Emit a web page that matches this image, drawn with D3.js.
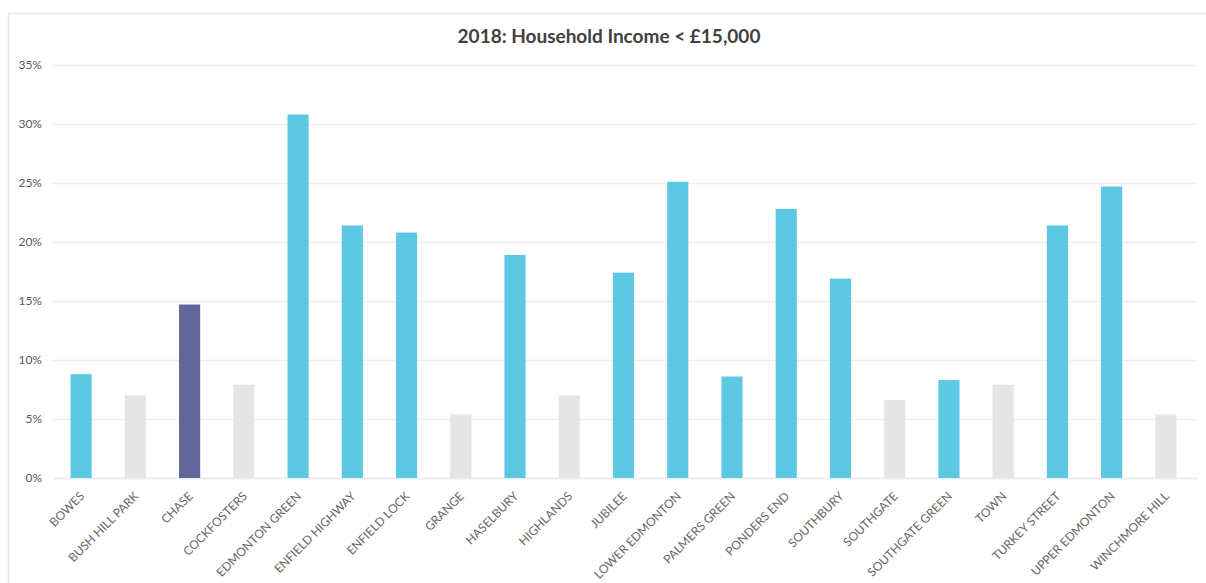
<!DOCTYPE html>
<html>
<head>
<meta charset="utf-8">
<script src="https://cdn.jsdelivr.net/npm/d3@7"></script>
<style>
  body { margin: 0; background: #fff; }
  text { font-family: Lato, "Open Sans", sans-serif; }
</style>
</head>
<body>
<svg id="chart" width="1206" height="583"></svg>
<script>
// ward names, share of households under £15k (%), and bar group
var wards = ['BOWES', 'BUSH HILL PARK', 'CHASE', 'COCKFOSTERS', 'EDMONTON GREEN',
   'ENFIELD HIGHWAY', 'ENFIELD LOCK', 'GRANGE', 'HASELBURY', 'HIGHLANDS', 'JUBILEE',
   'LOWER EDMONTON', 'PALMERS GREEN', 'PONDERS END', 'SOUTHBURY', 'SOUTHGATE',
   'SOUTHGATE GREEN', 'TOWN', 'TURKEY STREET', 'UPPER EDMONTON', 'WINCHMORE HILL'];
var values = [8.8, 7.0, 14.7, 7.9, 30.8, 21.4, 20.8, 5.4, 18.9, 7.0, 17.4,
   25.1, 8.6, 22.8, 16.9, 6.6, 8.3, 7.9, 21.4, 24.7, 5.4];
var groups = ['high', 'low', 'focus', 'low', 'high', 'high', 'high', 'low', 'high', 'low', 'high',
   'high', 'high', 'high', 'high', 'low', 'high', 'low', 'high', 'high', 'low'];
var yTicks = [0, 5, 10, 15, 20, 25, 30, 35];

var colors = { high: '#53c5e2', low: '#e4e4e4', focus: '#5b5e96' };

var svg = d3.select('#chart');

// outer chart frame (only top and left edges show in the window)
svg.append('rect')
   .attr('x', 8.5).attr('y', 13.5)
   .attr('width', 1300).attr('height', 700)
   .attr('fill', 'none')
   .attr('stroke', '#e6e9ee')
   .attr('stroke-width', 1.5);

var x = d3.scaleBand()
   .domain(wards)
   .range([54, 1193])
   .paddingInner(0.61)
   .paddingOuter(0.305);

var y = d3.scaleLinear()
   .domain([0, 35])
   .range([478, 65]);

// gridlines
svg.append('g')
   .selectAll('line')
   .data(yTicks)
   .join('line')
   .attr('x1', 53).attr('x2', 1197)
   .attr('y1', function(d) { return y(d) + 0.5; })
   .attr('y2', function(d) { return y(d) + 0.5; })
   .attr('stroke', '#eceef3')
   .attr('stroke-width', function(d) { return d === 0 ? 2 : 1.5; });

// y labels
var yAxis = d3.axisLeft(y)
   .tickValues(yTicks)
   .tickSize(0)
   .tickPadding(0)
   .tickFormat(function(d) { return d + '%'; });

var gy = svg.append('g')
   .attr('transform', 'translate(42,0)')
   .call(yAxis);
gy.select('.domain').remove();
gy.selectAll('text')
   .attr('fill', '#595959')
   .style('font-size', '12px');

// bars
svg.append('g')
   .selectAll('rect')
   .data(wards)
   .join('rect')
   .attr('x', function(d) { return x(d); })
   .attr('y', function(d, i) { return y(values[i]); })
   .attr('width', x.bandwidth())
   .attr('height', function(d, i) { return y(0) - y(values[i]); })
   .attr('fill', function(d, i) { return colors[groups[i]]; })
   .attr('fill-opacity', 0.95);

// x labels, rotated
var xAxis = d3.axisBottom(x).tickSize(0).tickPadding(0);
var gx = svg.append('g')
   .attr('transform', 'translate(0,478)')
   .call(xAxis);
gx.select('.domain').remove();
gx.selectAll('text')
   .attr('fill', '#666')
   .style('font-size', '12px')
   .attr('text-anchor', 'end')
   .attr('dy', '0.35em')
   .attr('transform', 'translate(1,16) rotate(-45)');

// title
svg.append('text')
   .attr('x', 609)
   .attr('y', 43)
   .attr('text-anchor', 'middle')
   .attr('fill', '#404040')
   .style('font-size', '19px')
   .style('font-weight', 'bold')
   .text('2018: Household Income < £15,000');
</script>
</body>
</html>
